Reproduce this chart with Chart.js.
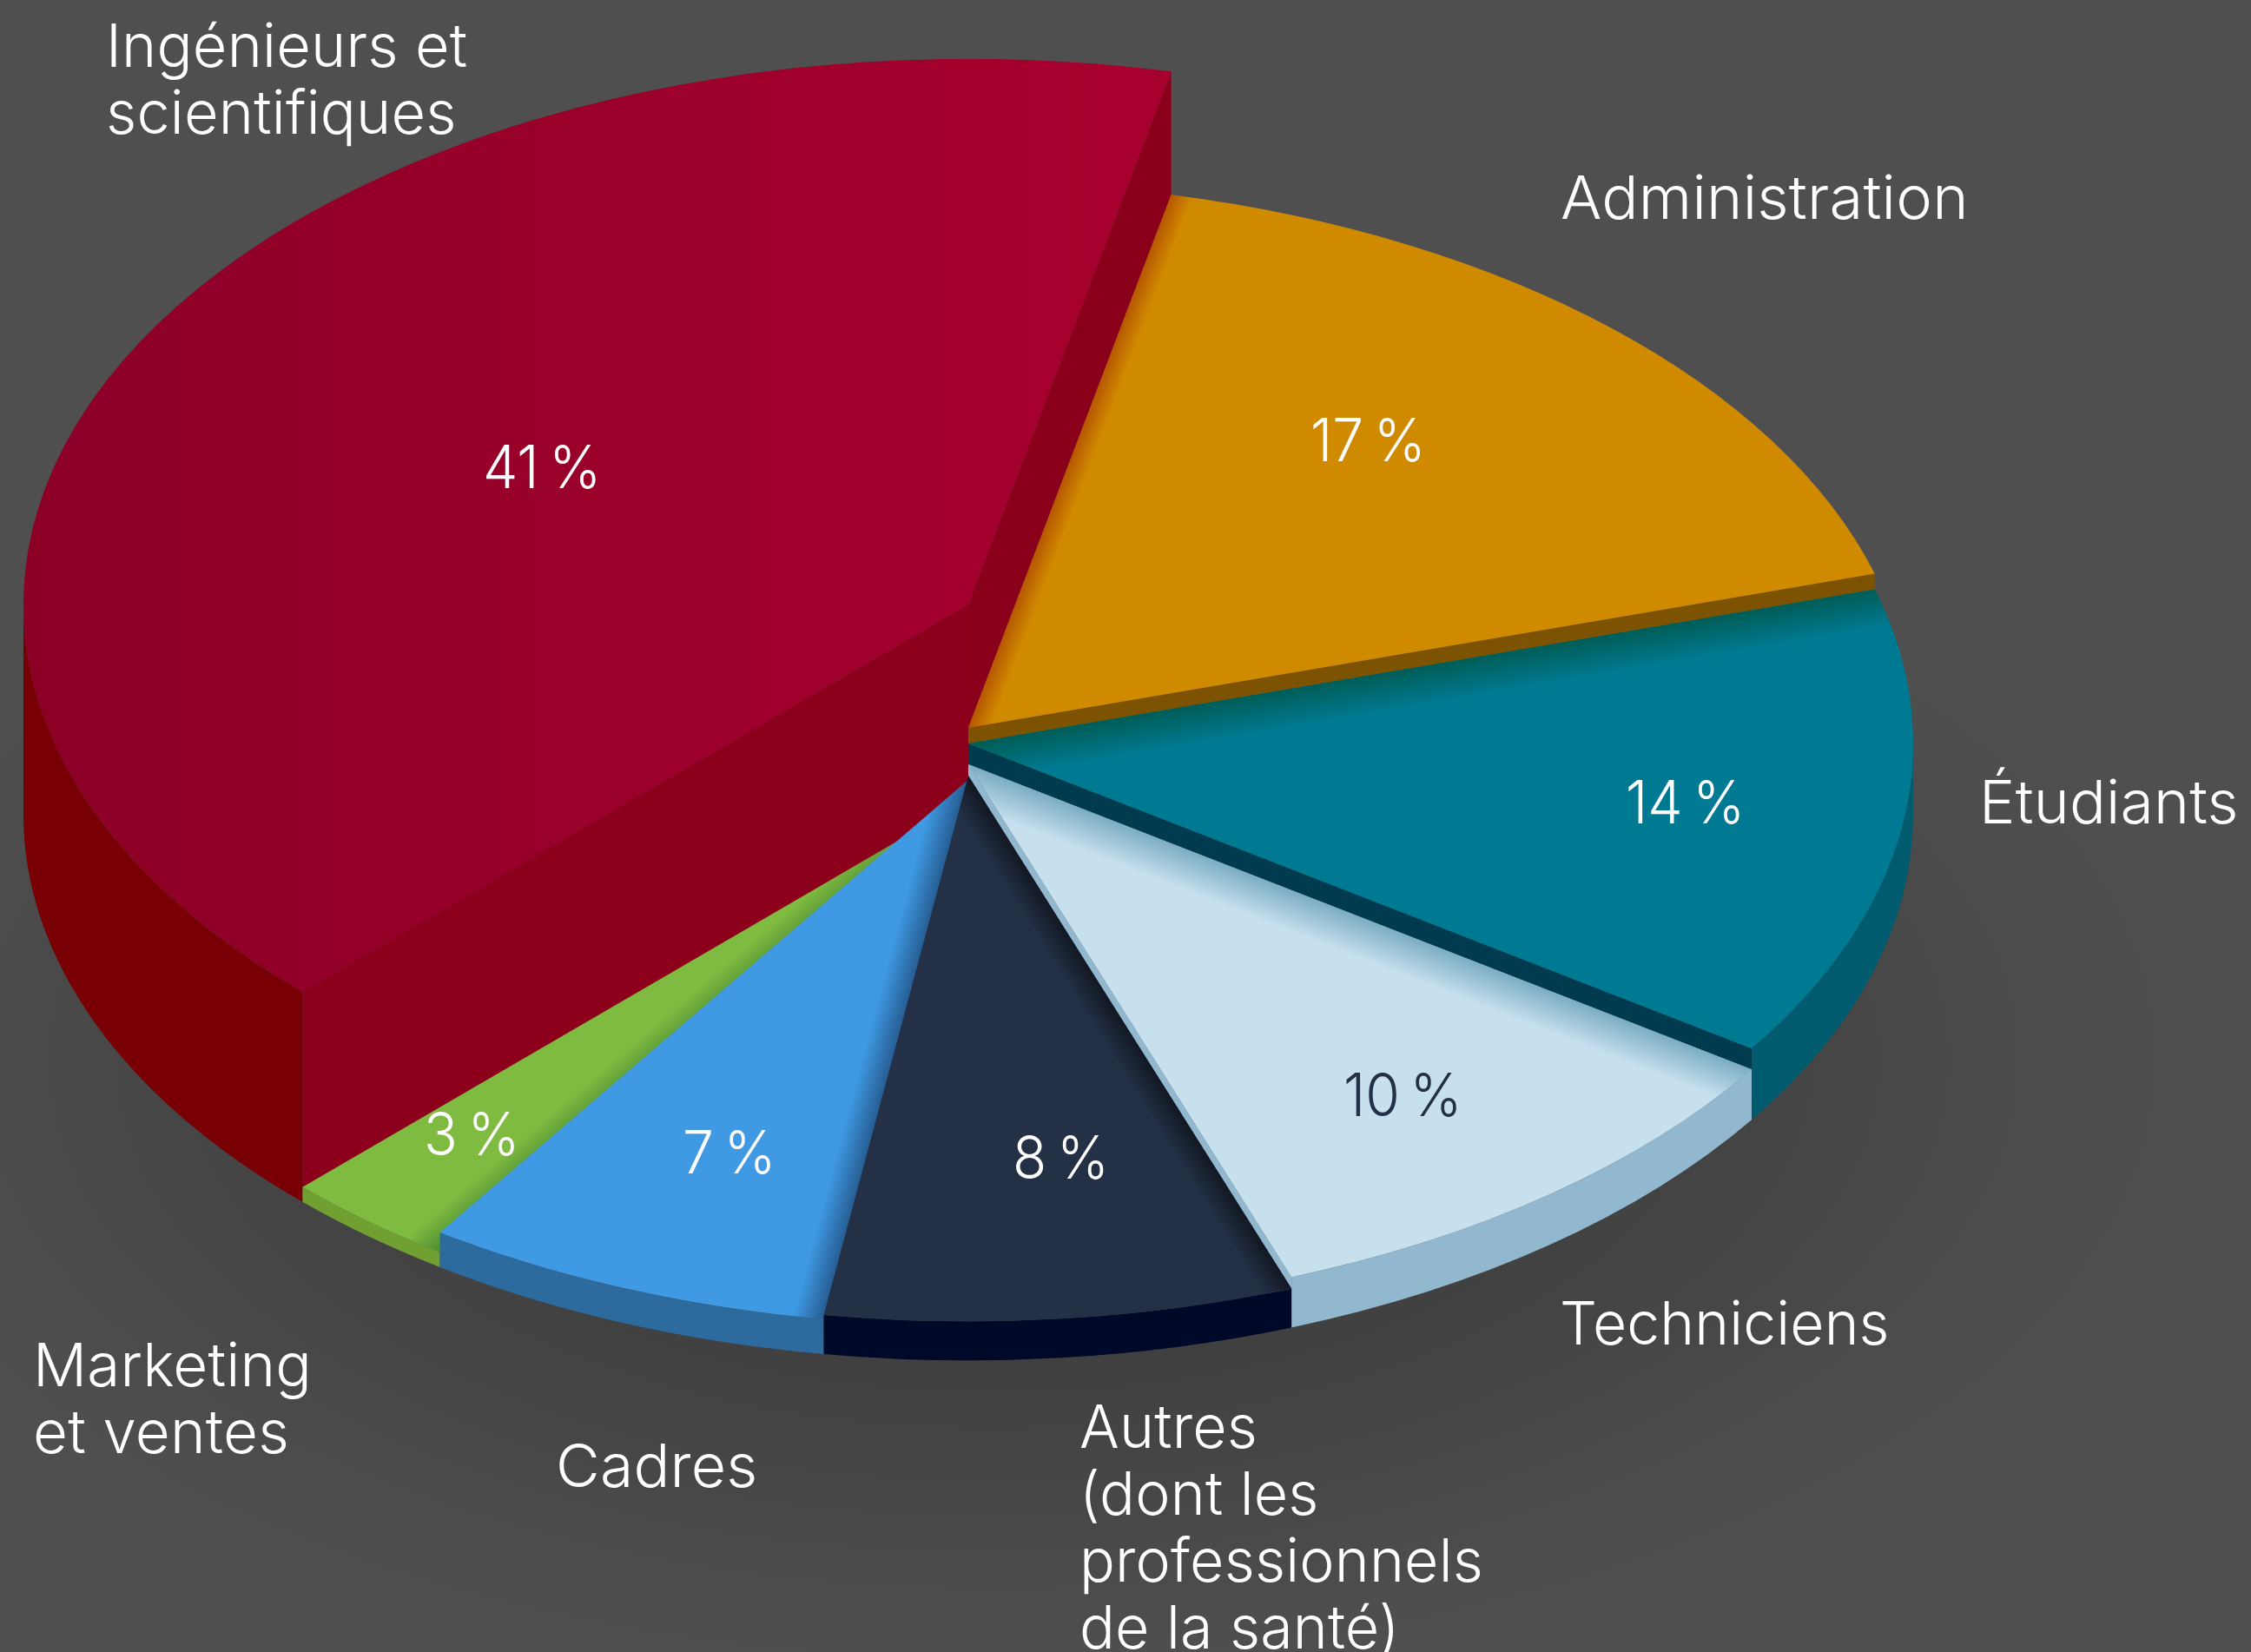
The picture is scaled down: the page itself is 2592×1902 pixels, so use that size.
<!DOCTYPE html>
<html lang="fr">
<head>
<meta charset="utf-8">
<title>Répartition</title>
<script src="https://cdn.jsdelivr.net/npm/chart.js@4"></script>
<style>
  html, body { margin: 0; padding: 0; width: 2592px; height: 1902px; overflow: hidden; }
  body { background: radial-gradient(1350px 700px at 1150px 1220px, #363636 0%, #404040 50%, #4f4f4f 100%); }
  canvas { display: block; }
</style>
</head>
<body>
<canvas id="chartCanvas" width="2592" height="1902"></canvas>
<script>
"use strict";

const categories = [
    ['Ingénieurs et', 'scientifiques'],
    ['Administration'],
    ['Étudiants'],
    ['Techniciens'],
    ['Autres', '(dont les', 'professionnels', 'de la santé)'],
    ['Cadres'],
    ['Marketing', 'et ventes']
];
const shares = [41, 17, 14, 10, 8, 7, 3];

const topColors = ['#a8002e', '#d08a00', '#007a93', '#c7e0ee', '#233046', '#3f99e3', '#80bb41'];
const outerWallColors = ['#780005', '#7d5200', '#005b6e', '#92b8cf', '#000a28', '#2d6a9e', '#70a032'];
const endWallColors = ['#8a001a', '#7d5200', '#003b4f', '#92b8cf', null, null, null];
const edgeShadows = [null, ['rgba(175,75,0,0.8)', 24], ['rgba(0,90,80,0.9)', 45], ['rgba(105,160,185,0.8)', 45],
    ['rgba(15,20,28,0.85)', 32], ['rgba(35,85,135,0.9)', 35], ['rgba(70,135,50,0.9)', 38]];
const sliceHeights = [242, 100, 82, 58, 45, 40, 17];
const percentColors = ['#fff', '#fff', '#fff', '#233046', '#fff', '#fff', '#fff'];

// slices are painted in this order: where a rim edge faces away, the higher slice hides the lower one
const paintOrder = [0, 1, 2, 3, 6, 5, 4];

// left edge and first baseline of the text, in page pixels
const namePositions = [[122, 77], [1797, 252], [2279, 948], [1796, 1548], [1243, 1667], [640, 1712], [38, 1596]];
const percentPositions = [[556, 562], [1509, 531], [1872, 948], [1547, 1285], [1166, 1357], [786, 1351], [488, 1330]];
const nameStretch = [0.99, 1.02, 1.01, 0.98, 0.985, 1.01, 1];
const percentStretch = 0.93;

const pieX = 1115;
const baseY = 938;
const radiusX = 1088;
const squash = 0.5775;
const radiusY = radiusX * squash;
const lineStep = 77;

function sectorPath(ctx, top, a0, a1) {
    ctx.beginPath();
    ctx.moveTo(pieX, top);
    ctx.ellipse(pieX, top, radiusX, radiusY, 0, a0, a1);
    ctx.closePath();
}

function rimPoint(top, a) {
    return [pieX + radiusX * Math.cos(a), top + radiusY * Math.sin(a)];
}

function radialWall(ctx, top, a, color) {
    const p = rimPoint(top, a);
    ctx.fillStyle = color;
    ctx.beginPath();
    ctx.moveTo(pieX, top);
    ctx.lineTo(p[0], p[1]);
    ctx.lineTo(p[0], p[1] + baseY - top);
    ctx.lineTo(pieX, baseY);
    ctx.closePath();
    ctx.fill();
}

function outerWall(ctx, top, a0, a1, color) {
    // only the front half of the rim can be seen
    for (let k = 0; k < 2; k++) {
        const from = Math.max(a0, 2 * Math.PI * k);
        const to = Math.min(a1, 2 * Math.PI * k + Math.PI);
        if (from >= to) continue;
        ctx.fillStyle = color;
        ctx.beginPath();
        ctx.ellipse(pieX, top, radiusX, radiusY, 0, from, to);
        ctx.ellipse(pieX, baseY, radiusX, radiusY, 0, to, from, true);
        ctx.closePath();
        ctx.fill();
    }
}

function stretchedText(ctx, text, x, y, stretch) {
    ctx.save();
    ctx.translate(x, y);
    ctx.scale(stretch, 1);
    ctx.fillText(text, 0, 0);
    ctx.restore();
}

const solidPie = {
    id: 'solidPie',
    beforeDatasetDraw(chart, args) {
        const ctx = chart.ctx;
        paintOrder.forEach(i => {
            const arc = args.meta.data[i];
            const top = baseY - sliceHeights[i];
            outerWall(ctx, top, arc.startAngle, arc.endAngle, outerWallColors[i]);
            if (i === 0) radialWall(ctx, top, arc.startAngle, '#8c001c');
            if (endWallColors[i]) radialWall(ctx, top, arc.endAngle, endWallColors[i]);

            ctx.save();
            ctx.translate(pieX, top);
            ctx.scale(1, squash);
            ctx.translate(-arc.x, -arc.y);
            arc.draw(ctx);
            ctx.restore();

            ctx.save();
            sectorPath(ctx, top, arc.startAngle, arc.endAngle);
            ctx.clip();
            if (i === 0) {
                const g = ctx.createLinearGradient(pieX - radiusX, 0, pieX + 225, 0);
                g.addColorStop(0, 'rgba(0,0,0,0.17)');
                g.addColorStop(1, 'rgba(0,0,0,0)');
                ctx.fillStyle = g;
                ctx.fillRect(0, 0, chart.width, chart.height);
            }
            if (edgeShadows[i]) {
                const p = rimPoint(top, arc.startAngle);
                const len = Math.hypot(p[0] - pieX, p[1] - top);
                const nx = -(p[1] - top) / len;
                const ny = (p[0] - pieX) / len;
                const g = ctx.createLinearGradient(pieX, top, pieX + nx * edgeShadows[i][1], top + ny * edgeShadows[i][1]);
                g.addColorStop(0, edgeShadows[i][0]);
                g.addColorStop(1, edgeShadows[i][0].replace(/[\d.]+\)$/, '0)'));
                ctx.fillStyle = g;
                ctx.fillRect(0, 0, chart.width, chart.height);
            }
            ctx.restore();
        });
        return false;
    },
    afterDatasetsDraw(chart) {
        const ctx = chart.ctx;
        ctx.save();
        ctx.font = '300 69px Inter';
        ctx.letterSpacing = '0.2px';
        ctx.textAlign = 'left';
        ctx.textBaseline = 'alphabetic';
        categories.forEach((lines, i) => {
            ctx.fillStyle = '#fff';
            lines.forEach((line, n) => {
                stretchedText(ctx, line, namePositions[i][0], namePositions[i][1] + n * lineStep, nameStretch[i]);
            });
            ctx.fillStyle = percentColors[i];
            stretchedText(ctx, shares[i] + '\u202f%', percentPositions[i][0], percentPositions[i][1], percentStretch);
        });
        ctx.restore();
    }
};

new Chart(document.getElementById('chartCanvas').getContext('2d'), {
    type: 'pie',
    data: {
        labels: categories.map(x => x.join(' ')),
        datasets: [{
            data: shares,
            backgroundColor: topColors,
            borderWidth: 0
        }]
    },
    options: {
        responsive: false,
        devicePixelRatio: 1,
        animation: false,
        rotation: 224.8,
        radius: radiusX,
        plugins: {
            legend: { display: false },
            tooltip: { enabled: false }
        }
    },
    plugins: [solidPie]
});
</script>
</body>
</html>
